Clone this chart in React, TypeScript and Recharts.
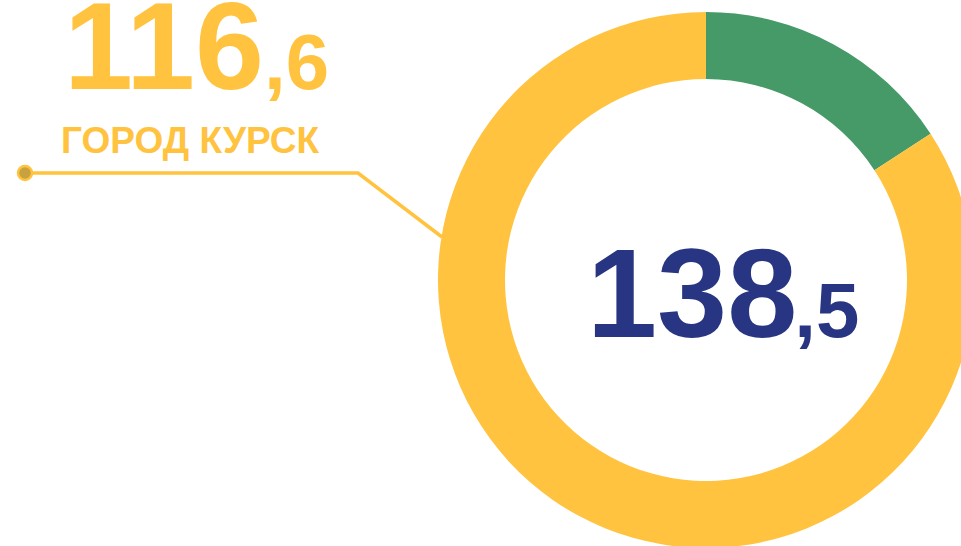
import { PieChart, Pie, Cell, Customized } from "recharts";

const names = ["Другие", "Город Курск"];
const values = [21.9, 116.6];
const colors = ["#459A68", "#FFC33F"];

const data = names.map((name, i) => ({ name, value: values[i] }));
const total = values.reduce((a, b) => a + b, 0);

const split = (v: number) => v.toFixed(1).split(".");

const FONT = "'Liberation Sans', Arial, sans-serif";

function Labels() {
  const [kInt, kDec] = split(values[1]);
  const [tInt, tDec] = split(total);
  return (
    <g fontFamily={FONT} fontWeight="bold">
      <text x={64} y={89} fill="#FFC33F">
        <tspan fontSize={124}>{kInt}</tspan>
        <tspan fontSize={78}>,{kDec}</tspan>
      </text>
      <text x={61} y={153} fill="#FFC33F" fontSize={37}>
        {names[1].toUpperCase()}
      </text>
      <polyline
        points="25,173 358,173 442,237"
        fill="none"
        stroke="#FFC33F"
        strokeWidth={3.5}
      />
      <circle cx={25} cy={173} r={7} fill="#C9A23F" stroke="#FFC33F" strokeWidth={2.5} />
      <text x={587} y={337} fill="#283582">
        <tspan fontSize={126}>{tInt}</tspan>
        <tspan fontSize={78} dx={-3}>,{tDec}</tspan>
      </text>
    </g>
  );
}

export default function App() {
  return (
    <div style={{ position: "absolute", left: 0, top: 0, background: "#fff" }}>
      <PieChart width={961} height={546} margin={{ top: 0, right: 0, bottom: 0, left: 0 }}>
        <Pie
          data={data}
          dataKey="value"
          cx={706}
          cy={280}
          innerRadius={201}
          outerRadius={268}
          startAngle={90}
          endAngle={-270}
          stroke="none"
          isAnimationActive={false}
        >
          {data.map((d, i) => (
            <Cell key={d.name} fill={colors[i]} />
          ))}
        </Pie>
        <Customized component={Labels} />
      </PieChart>
    </div>
  );
}
